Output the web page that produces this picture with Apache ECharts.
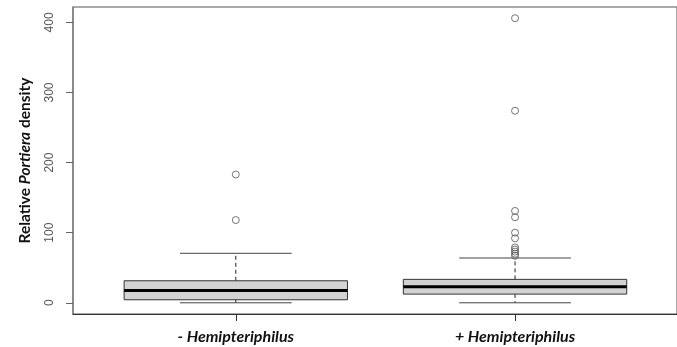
<!DOCTYPE html>
<html>
<head>
<meta charset="utf-8">
<script src="https://cdn.jsdelivr.net/npm/echarts@6/dist/echarts.min.js"></script>
<style>
html,body{margin:0;padding:0;background:#fff;}
#chart{width:677px;height:347px;}
</style>
</head>
<body>
<div id="chart"></div>
<script>
const categories = ['- Hemipteriphilus', '+ Hemipteriphilus'];
const lowerWhisker = [0, 0];
const q1 = [4.3, 12.4];
const median = [17.7, 22.9];
const q3 = [31.4, 33.4];
const upperWhisker = [70.6, 63.9];
const outliersMinus = [183, 118];
const outliersPlus = [406, 274, 131, 122, 100, 92, 79, 76, 73, 70, 67];
const yTicks = [0, 100, 200, 300, 400];

const boxData = categories.map((c, i) => [i + 1, lowerWhisker[i], q1[i], median[i], q3[i], upperWhisker[i]]);
const outlierData = [];
outliersMinus.forEach(v => outlierData.push([1, v]));
outliersPlus.forEach(v => outlierData.push([2, v]));

const chart = echarts.init(document.getElementById('chart'), null, {renderer: 'canvas'});

function renderBox(params, api) {
  const x = api.value(0);
  const pMin = api.coord([x, api.value(1)]);
  const pQ1 = api.coord([x, api.value(2)]);
  const pMed = api.coord([x, api.value(3)]);
  const pQ3 = api.coord([x, api.value(4)]);
  const pMax = api.coord([x, api.value(5)]);
  const halfW = api.size([0.8, 0])[0] / 2;
  const capHalf = api.size([0.4, 0])[0] / 2;
  const cx = pMed[0];
  const dash = {stroke: '#222', lineWidth: 1, lineDash: [4, 3]};
  const solid = {stroke: '#444', lineWidth: 1};
  return {
    type: 'group',
    children: [
      {type: 'line', shape: {x1: cx, y1: pQ3[1], x2: cx, y2: pMax[1]}, style: dash},
      {type: 'line', shape: {x1: cx, y1: pQ1[1], x2: cx, y2: pMin[1]}, style: dash},
      {type: 'line', shape: {x1: cx - capHalf, y1: pMax[1], x2: cx + capHalf, y2: pMax[1]}, style: solid},
      {type: 'line', shape: {x1: cx - capHalf, y1: pMin[1], x2: cx + capHalf, y2: pMin[1]}, style: solid},
      {type: 'rect', shape: {x: cx - halfW, y: pQ3[1], width: halfW * 2, height: pQ1[1] - pQ3[1]},
        style: {fill: '#d3d3d3', stroke: '#333', lineWidth: 1}},
      {type: 'line', shape: {x1: cx - halfW, y1: pMed[1], x2: cx + halfW, y2: pMed[1]},
        style: {stroke: '#000', lineWidth: 3}}
    ]
  };
}

chart.setOption({
  animation: false,
  backgroundColor: '#fff',
  grid: {left: 73, right: -3, top: 7, bottom: 33, show: true, borderColor: '#555', borderWidth: 1, containLabel: false},
  xAxis: {
    type: 'value', min: 0.417, max: 2.58,
    splitLine: {show: false},
    axisLine: {show: true, onZero: false, lineStyle: {color: '#333', width: 1}},
    axisTick: {show: true, length: 7, customValues: [1, 2], lineStyle: {color: '#333'}},
    axisLabel: {
      customValues: [1, 2], margin: 15,
      formatter: v => categories[Math.round(v) - 1] || '',
      fontFamily: 'Lato', fontWeight: 'bold', fontStyle: 'italic', fontSize: 16, color: '#111'
    }
  },
  yAxis: {
    type: 'value', min: -16, max: 422,
    splitLine: {show: false},
    axisLine: {show: true, lineStyle: {color: '#808080', width: 1.5}},
    axisTick: {show: true, length: 7, customValues: yTicks, lineStyle: {color: '#666'}},
    axisLabel: {customValues: yTicks, rotate: 90, margin: 17, fontFamily: 'Liberation Sans', fontSize: 12, color: '#555'},
    name: '{a|Relative }{b|Portiera}{a| density}',
    nameLocation: 'middle', nameRotate: 90, nameGap: 40,
    nameTextStyle: {
      rich: {
        a: {fontFamily: 'Lato', fontWeight: 'bold', fontSize: 15.5, color: '#111'},
        b: {fontFamily: 'Lato', fontWeight: 'bold', fontStyle: 'italic', fontSize: 15.5, color: '#111'}
      }
    }
  },
  series: [
    {type: 'custom', renderItem: renderBox, data: boxData, encode: {x: 0, y: [1, 2, 3, 4, 5]}, z: 2},
    {type: 'scatter', data: outlierData, symbol: 'circle', symbolSize: 7,
      itemStyle: {color: 'rgba(255,255,255,0)', borderColor: '#555', borderWidth: 1}, z: 3}
  ]
});
</script>
</body>
</html>
